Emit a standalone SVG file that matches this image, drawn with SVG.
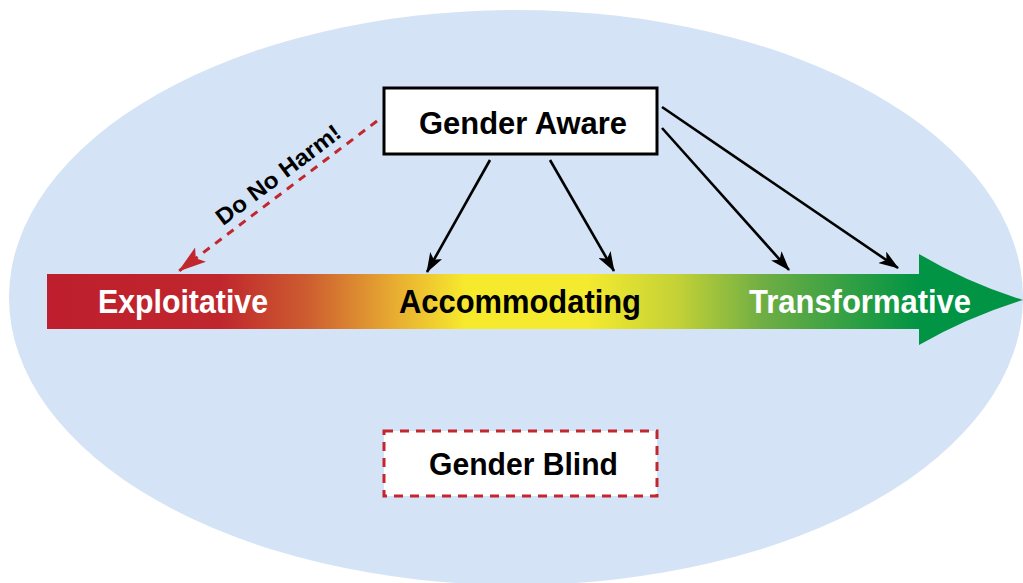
<svg xmlns="http://www.w3.org/2000/svg" width="1023" height="583" viewBox="0 0 1023 583">
<defs>
<style>
.lbl{font-family:"Liberation Sans",Arial,sans-serif;font-weight:bold;}
.conn{stroke:#000;stroke-width:2.6;fill:none;}
.harm{stroke:#C1272D;stroke-width:3;fill:none;stroke-dasharray:8 7;}
</style>
<linearGradient id="spec" gradientUnits="userSpaceOnUse" x1="47" y1="0" x2="920" y2="0">
<stop offset="0" stop-color="#BE1E2D"/>
<stop offset="0.2" stop-color="#C0272D"/>
<stop offset="0.3" stop-color="#CD5E30"/>
<stop offset="0.4" stop-color="#E8AE31"/>
<stop offset="0.48" stop-color="#F7EA2D"/>
<stop offset="0.62" stop-color="#F4EA2F"/>
<stop offset="0.72" stop-color="#C5D236"/>
<stop offset="0.82" stop-color="#6FAE44"/>
<stop offset="1" stop-color="#009444"/>
</linearGradient>
<marker id="ah" viewBox="0 0 20 14" refX="19" refY="7" markerWidth="20" markerHeight="14" markerUnits="userSpaceOnUse" orient="auto">
<path d="M0,0 L20,7 L0,14 L5,7 Z" fill="#000"/>
</marker>
<marker id="ahr" viewBox="0 0 28 18" refX="27" refY="9" markerWidth="28" markerHeight="18" markerUnits="userSpaceOnUse" orient="auto">
<path d="M0,0 L28,9 L0,18 L6,9 Z" fill="#C1272D"/>
</marker>
</defs>
<ellipse id="field" cx="516" cy="297.5" rx="507" ry="287.5" fill="#D4E3F5"/>
<g id="spectrum">
<path d="M47,274 L919,274 L919,254 Q968,283 1023,300 Q968,317 919,345 L919,329 L47,329 Z" fill="url(#spec)"/>
</g>
<g id="exploitative">
<text class="lbl" x="98" y="313" font-size="33" fill="#fff" textLength="170" lengthAdjust="spacingAndGlyphs">Exploitative</text>
</g>
<g id="accommodating">
<text class="lbl" x="399" y="313" font-size="33" fill="#000" textLength="242" lengthAdjust="spacingAndGlyphs">Accommodating</text>
</g>
<g id="transformative">
<text class="lbl" x="749" y="313" font-size="33" fill="#fff" textLength="222" lengthAdjust="spacingAndGlyphs">Transformative</text>
</g>
<g id="gender-aware">
<rect x="384" y="88" width="273" height="66" fill="#fff" stroke="#000" stroke-width="3"/>
<text class="lbl" x="523" y="134" font-size="31" fill="#000" text-anchor="middle" textLength="208" lengthAdjust="spacingAndGlyphs">Gender Aware</text>
</g>
<g id="gender-blind">
<rect x="384" y="431" width="273" height="65" fill="#fff" stroke="#C1272D" stroke-width="3" stroke-dasharray="9 7"/>
<text class="lbl" x="523.5" y="475" font-size="31" fill="#000" text-anchor="middle" textLength="189" lengthAdjust="spacingAndGlyphs">Gender Blind</text>
</g>
<g id="connectors">
<line class="conn" x1="490" y1="160" x2="427" y2="272" marker-end="url(#ah)"/>
<line class="conn" x1="550" y1="160" x2="614" y2="271" marker-end="url(#ah)"/>
<line class="conn" x1="662" y1="128" x2="789" y2="270" marker-end="url(#ah)"/>
<line class="conn" x1="662" y1="107" x2="898" y2="268" marker-end="url(#ah)"/>
<line class="harm" x1="377" y1="121" x2="179" y2="271" marker-end="url(#ahr)"/>
<text class="lbl" transform="translate(283,181) rotate(-37)" font-size="23" fill="#000" text-anchor="middle" textLength="150" lengthAdjust="spacingAndGlyphs">Do No Harm!</text>
</g>
</svg>
